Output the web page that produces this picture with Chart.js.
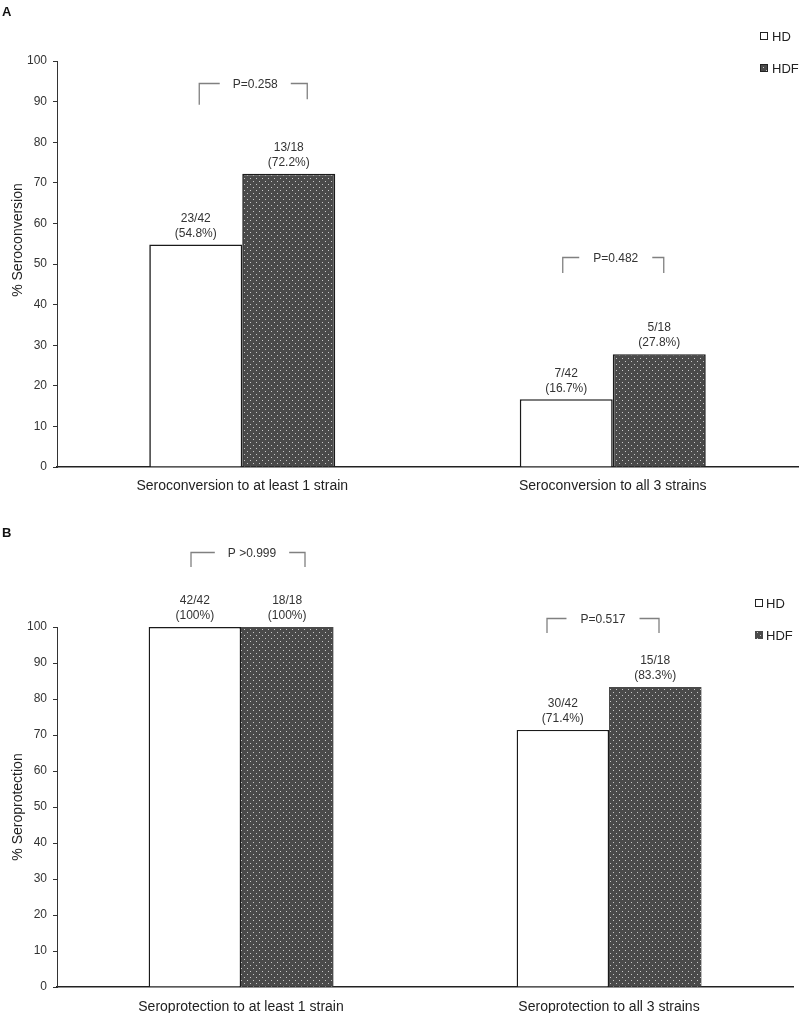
<!DOCTYPE html>
<html>
<head>
<meta charset="utf-8">
<script src="https://cdn.jsdelivr.net/npm/chart.js@4"></script>
<style>
  html, body { margin: 0; padding: 0; background: #fff; }
  #wrap { position: relative; width: 800px; height: 1013px; }
  canvas { position: absolute; left: 0; }
  #chartA { top: 0; }
  #chartB { top: 505px; }
</style>
</head>
<body>
<div id="wrap">
  <canvas id="chartA" width="800" height="505"></canvas>
  <canvas id="chartB" width="800" height="508"></canvas>
</div>
<script>
// Chart data
const seriesNames = ['HD', 'HDF'];
const yTicks = [0, 10, 20, 30, 40, 50, 60, 70, 80, 90, 100];

const categoriesA = ['Seroconversion to at least 1 strain', 'Seroconversion to all 3 strains'];
const hdA = [54.8, 16.7];
const hdfA = [72.2, 27.8];
const hdCountsA = ['23/42', '7/42'];
const hdfCountsA = ['13/18', '5/18'];
const pValuesA = ['P=0.258', 'P=0.482'];

const categoriesB = ['Seroprotection to at least 1 strain', 'Seroprotection to all 3 strains'];
const hdB = [100, 71.4];
const hdfB = [100, 83.3];
const hdCountsB = ['42/42', '30/42'];
const hdfCountsB = ['18/18', '15/18'];
const pValuesB = ['P >0.999', 'P=0.517'];

const FONT = '"Liberation Sans", Arial, Helvetica, sans-serif';

// Dotted dark fill used for the HDF bars
function makePattern() {
    const c = document.createElement('canvas');
    c.width = 6;
    c.height = 6;
    const g = c.getContext('2d');
    g.fillStyle = '#4a4a4a';
    g.fillRect(0, 0, 6, 6);
    g.fillStyle = '#c8c8c8';
    g.fillRect(1, 1, 1, 1);
    g.fillRect(4, 4, 1, 1);
    return g.createPattern(c, 'repeat');
}
const dots = makePattern();

function fmtPct(v) {
    return '(' + (v === 100 ? '100' : v.toFixed(1)) + '%)';
}

// Labels over the bars, p-value brackets, legend, axis title, panel letter
const annotatePlugin = {
    id: 'annotate',
    afterDraw(chart, args, opts) {
        const ctx = chart.ctx;
        const x = chart.scales.x;
        const y = chart.scales.y;
        ctx.save();

        // counts and percentages
        ctx.font = '12px ' + FONT;
        ctx.fillStyle = '#333';
        ctx.textAlign = 'center';
        ctx.textBaseline = 'middle';
        chart.data.datasets.forEach((ds, di) => {
            chart.getDatasetMeta(di).data.forEach((bar, i) => {
                ctx.fillText(ds.counts[i], bar.x, bar.y - 26);
                ctx.fillText(fmtPct(ds.data[i]), bar.x, bar.y - 11);
            });
        });

        // brackets
        ctx.strokeStyle = '#808080';
        ctx.lineWidth = 1.3;
        opts.brackets.forEach((b, i) => {
            const cx = x.getPixelForValue(i);
            const top = Math.round(y.getPixelForValue(b.top)) + 0.5;
            const bl = y.getPixelForValue(b.leftBottom);
            const br = y.getPixelForValue(b.rightBottom);
            const xl = cx + b.left;
            const xr = cx + b.right;
            const tx = cx + b.text;
            const tw = ctx.measureText(opts.pValues[i]).width;
            ctx.beginPath();
            ctx.moveTo(xl, bl);
            ctx.lineTo(xl, top);
            ctx.lineTo(tx - tw / 2 - b.pad, top);
            ctx.moveTo(tx + tw / 2 + b.pad, top);
            ctx.lineTo(xr, top);
            ctx.lineTo(xr, br);
            ctx.stroke();
            ctx.fillStyle = '#333';
            ctx.fillText(opts.pValues[i], tx, top + 1);
        });

        // legend
        const lg = opts.legend;
        ctx.font = '13px ' + FONT;
        ctx.textAlign = 'left';
        seriesNames.forEach((name, i) => {
            const ly = lg.y + i * lg.gap;
            const bx = lg.x - 4;
            const by = ly - 4;
            ctx.fillStyle = i === 0 ? '#fff' : dots;
            ctx.fillRect(bx, by, 8, 8);
            if (i === 0 || lg.hdfBorder) {
                ctx.strokeStyle = '#222';
                ctx.lineWidth = 1;
                ctx.strokeRect(bx + 0.5, by + 0.5, 7, 7);
            }
            ctx.fillStyle = '#222';
            ctx.fillText(name, lg.x + lg.textDx, ly + 1);
        });

        // y axis title
        ctx.save();
        ctx.translate(18, opts.titleY);
        ctx.rotate(-Math.PI / 2);
        ctx.font = '14px ' + FONT;
        ctx.textAlign = 'center';
        ctx.fillStyle = '#222';
        ctx.fillText(opts.title, 0, 0);
        ctx.restore();

        // panel letter
        ctx.font = 'bold 13px ' + FONT;
        ctx.fillStyle = '#111';
        ctx.textAlign = 'left';
        ctx.fillText(opts.letter, 2, opts.letterY);

        ctx.restore();
    }
};

function buildChart(id, p) {
    return new Chart(document.getElementById(id), {
        type: 'bar',
        data: {
            labels: p.categories,
            datasets: [
                {
                    label: seriesNames[0],
                    data: p.hd,
                    counts: p.hdCounts,
                    backgroundColor: '#fff',
                    borderColor: '#1a1a1a',
                    borderWidth: p.hdBorder
                },
                {
                    label: seriesNames[1],
                    data: p.hdf,
                    counts: p.hdfCounts,
                    backgroundColor: dots,
                    borderColor: '#1a1a1a',
                    borderWidth: p.hdfBorder
                }
            ]
        },
        options: {
            responsive: false,
            animation: false,
            devicePixelRatio: 1,
            categoryPercentage: 0.502,
            barPercentage: 1,
            layout: { padding: { top: p.padTop, right: p.padRight, left: 0, bottom: 0 } },
            scales: {
                x: {
                    afterFit(s) { s.height = p.xHeight; },
                    grid: { display: false, drawTicks: false },
                    border: { display: true, color: '#222', width: 1.5 },
                    ticks: {
                        font: { size: 14, family: FONT },
                        color: '#222',
                        padding: p.xPad,
                        maxRotation: 0,
                        autoSkip: false
                    }
                },
                y: {
                    min: 0,
                    max: 100,
                    afterFit(s) { s.width = 57; },
                    afterBuildTicks(s) { s.ticks = yTicks.map(v => ({ value: v })); },
                    grid: { drawOnChartArea: false, tickLength: 4, color: '#333' },
                    border: { display: true, color: '#333', width: 1 },
                    ticks: { font: { size: 12, family: FONT }, color: '#333', padding: 6 }
                }
            },
            plugins: {
                legend: { display: false },
                tooltip: { enabled: false },
                annotate: {
                    brackets: p.brackets,
                    pValues: p.pValues,
                    legend: p.legend,
                    title: p.title,
                    titleY: p.titleY,
                    letter: p.letter,
                    letterY: p.letterY
                }
            }
        },
        plugins: [annotatePlugin]
    });
}

buildChart('chartA', {
    categories: categoriesA,
    hd: hdA,
    hdf: hdfA,
    hdCounts: hdCountsA,
    hdfCounts: hdfCountsA,
    pValues: pValuesA,
    hdBorder: 1.6,
    hdfBorder: 1.6,
    padTop: 61,
    padRight: 2,
    xHeight: 38,
    xPad: 11,
    title: '% Seroconversion',
    titleY: 240,
    letter: 'A',
    letterY: 12,
    legend: { x: 764, y: 36, gap: 32, textDx: 8, hdfBorder: true },
    brackets: [
        { top: 94.6, leftBottom: 89.2, rightBottom: 90.6, left: -43, right: 65, text: 13, pad: 13 },
        { top: 51.7, leftBottom: 47.8, rightBottom: 47.8, left: -50, right: 51, text: 3, pad: 14 }
    ]
});

buildChart('chartB', {
    categories: categoriesB,
    hd: hdB,
    hdf: hdfB,
    hdCounts: hdCountsB,
    hdfCounts: hdfCountsB,
    pValues: pValuesB,
    hdBorder: 1.4,
    hdfBorder: 0,
    padTop: 122,
    padRight: 7,
    xHeight: 26,
    xPad: 12,
    title: '% Seroprotection',
    titleY: 302,
    letter: 'B',
    letterY: 28,
    legend: { x: 759, y: 98, gap: 32, textDx: 7, hdfBorder: false },
    brackets: [
        { top: 120.8, leftBottom: 116.7, rightBottom: 116.7, left: -50, right: 64, text: 11, pad: 13 },
        { top: 102.5, leftBottom: 98.3, rightBottom: 98.3, left: -62, right: 50, text: -6, pad: 14 }
    ]
});
</script>
</body>
</html>
